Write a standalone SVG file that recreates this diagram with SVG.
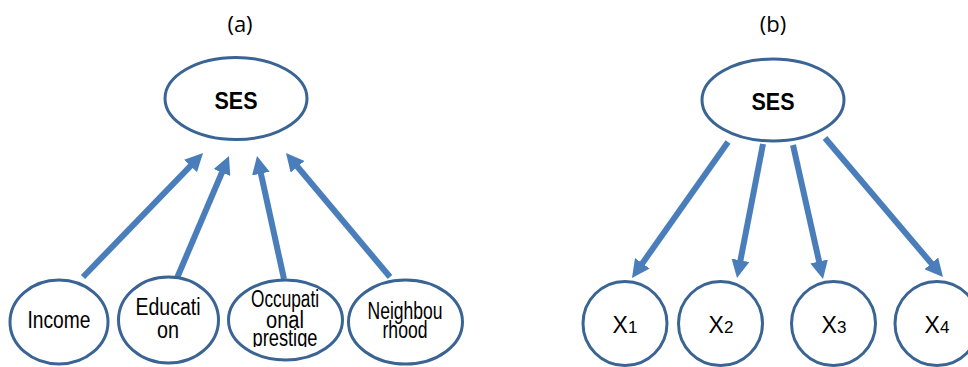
<svg xmlns="http://www.w3.org/2000/svg" width="968" height="367" viewBox="0 0 968 367">
  <style>
    .node { fill: #ffffff; stroke: #3A6494; stroke-width: 3; }
    .lbl { font-family: "Liberation Sans", Arial, sans-serif; font-size: 23px; fill: #000; text-anchor: middle; }
    .ses { font-family: "Liberation Sans", Arial, sans-serif; font-size: 23px; font-weight: bold; fill: #000; text-anchor: middle; }
    .cap { font-family: "Open Sans", "Liberation Sans", sans-serif; font-size: 22px; fill: #000; text-anchor: middle; }
    .sub { font-size: 17px; }
    .edge { stroke: #4A7EBB; stroke-width: 6; fill: none; marker-end: url(#head); }
  </style>
  <defs>
    <marker id="head" viewBox="0 0 18 18" refX="6" refY="9" markerWidth="18" markerHeight="18" markerUnits="userSpaceOnUse" orient="auto">
      <path d="M0,0 L18,9 L0,18 z" fill="#4A7EBB"/>
    </marker>
  </defs>
  <rect width="968" height="367" fill="#ffffff"/>

  <!-- panel captions -->
  <text class="cap" x="240" y="32">(a)</text>
  <text class="cap" x="773" y="32">(b)</text>

  <!-- connectors -->
  <g id="connectors">
    <line class="edge" x1="83" y1="277" x2="194.7" y2="161.6"/>
    <line class="edge" x1="177" y1="278" x2="224.3" y2="167"/>
    <line class="edge" x1="284" y1="279" x2="259.6" y2="167.7"/>
    <line class="edge" x1="390" y1="277" x2="293.7" y2="162.2"/>
    <line class="edge" x1="728" y1="142" x2="638.9" y2="268.2"/>
    <line class="edge" x1="763" y1="144" x2="739.3" y2="266.2"/>
    <line class="edge" x1="793" y1="145" x2="820.4" y2="267.3"/>
    <line class="edge" x1="825" y1="138" x2="935.2" y2="267.9"/>
  </g>

  <!-- formative model -->
  <g id="ses-a">
    <ellipse class="node" cx="236" cy="98.5" rx="71" ry="41"/>
    <text class="ses" x="236" y="109" textLength="43" lengthAdjust="spacingAndGlyphs">SES</text>
  </g>
  <g id="income">
    <ellipse class="node" cx="59" cy="322" rx="49" ry="42"/>
    <text class="lbl" x="59" y="328" textLength="63" lengthAdjust="spacingAndGlyphs">Income</text>
  </g>
  <g id="education">
    <ellipse class="node" cx="168.5" cy="320" rx="50" ry="43"/>
    <text class="lbl" x="168" y="315" textLength="65" lengthAdjust="spacingAndGlyphs">Educati</text>
    <text class="lbl" x="168" y="338" textLength="22" lengthAdjust="spacingAndGlyphs">on</text>
  </g>
  <g id="occupational-prestige">
    <ellipse class="node" cx="285.5" cy="320" rx="57" ry="40"/>
    <svg x="228" y="280" width="116" height="67" overflow="hidden">
      <text class="lbl" x="57" y="27" textLength="68" lengthAdjust="spacingAndGlyphs">Occupati</text>
      <text class="lbl" x="57" y="48" textLength="38" lengthAdjust="spacingAndGlyphs">onal</text>
      <text class="lbl" x="57" y="66" textLength="65" lengthAdjust="spacingAndGlyphs">prestige</text>
    </svg>
  </g>
  <g id="neighbourhood">
    <ellipse class="node" cx="405.5" cy="322" rx="57" ry="42"/>
    <text class="lbl" x="405" y="319" textLength="75" lengthAdjust="spacingAndGlyphs">Neighbou</text>
    <text class="lbl" x="405" y="338" textLength="45" lengthAdjust="spacingAndGlyphs">rhood</text>
  </g>

  <!-- reflective model -->
  <g id="ses-b">
    <ellipse class="node" cx="773" cy="100" rx="71" ry="41"/>
    <text class="ses" x="773" y="110" textLength="43" lengthAdjust="spacingAndGlyphs">SES</text>
  </g>
  <g id="x1">
    <circle class="node" cx="625" cy="323.5" r="42"/>
    <text class="lbl" x="625" y="333">X<tspan class="sub">1</tspan></text>
  </g>
  <g id="x2">
    <circle class="node" cx="720.5" cy="323.5" r="42"/>
    <text class="lbl" x="721" y="333">X<tspan class="sub">2</tspan></text>
  </g>
  <g id="x3">
    <circle class="node" cx="833.5" cy="323.5" r="42"/>
    <text class="lbl" x="834" y="333">X<tspan class="sub">3</tspan></text>
  </g>
  <g id="x4">
    <circle class="node" cx="937" cy="323.5" r="42"/>
    <text class="lbl" x="937" y="333">X<tspan class="sub">4</tspan></text>
  </g>
</svg>
